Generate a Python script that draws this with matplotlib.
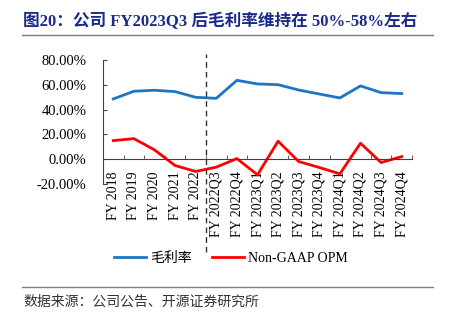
import matplotlib
matplotlib.use("Agg")
import matplotlib.pyplot as plt
from matplotlib.lines import Line2D
from matplotlib.ticker import FuncFormatter, FixedLocator

# 数据
periods = ["FY 2018", "FY 2019", "FY 2020", "FY 2021", "FY 2022",
           "FY 2022Q3", "FY 2022Q4", "FY 2023Q1", "FY 2023Q2", "FY 2023Q3",
           "FY 2023Q4", "FY 2024Q1", "FY 2024Q2", "FY 2024Q3", "FY 2024Q4"]
gross_margin = [48.6, 54.8, 55.6, 54.5, 49.9, 49.1, 63.6, 60.7, 60.1, 55.8,
                52.6, 49.4, 59.1, 53.7, 52.9]
non_gaap_opm = [15.0, 16.6, 7.5, -5.1, -9.9, -6.4, 0.5, -12.6, 14.5, -1.9,
                -6.7, -11.8, 12.9, -2.7, 2.1]

serif = ["Liberation Serif", "Noto Sans CJK SC"]
plt.rcParams["font.family"] = serif

W, H = 458, 324
fig = plt.figure(figsize=(W / 100, H / 100), dpi=100)

# 标题
fig.text(23 / W, 1 - 21 / H, "图20：公司 FY2023Q3 后毛利率维持在 50%-58%左右",
         fontsize=12, fontweight="bold", color="#1a2a8a", va="center", ha="left")
fig.add_artist(Line2D([22 / W, 433 / W], [1 - 35 / H] * 2, color="#7f7f7f", lw=1))

ax = fig.add_axes([103 / W, 1 - 184 / H, 309 / W, 124 / H])
x = list(range(len(periods)))
ax.plot(x, gross_margin, color="#1f74c4", lw=2, label="毛利率")
ax.plot(x, non_gaap_opm, color="#ff0000", lw=2, label="Non-GAAP OPM")

ax.set_xlim(-0.5, len(periods) - 0.5)
ax.set_ylim(-20, 80)
ax.set_yticks([-20, 0, 20, 40, 60, 80])
ax.yaxis.set_major_formatter(FuncFormatter(lambda v, p: f"{v:.2f}%"))

ax.spines["top"].set_visible(False)
ax.spines["right"].set_visible(False)
ax.spines["bottom"].set_position(("data", 0))
for s in ("left", "bottom"):
    ax.spines[s].set_color("#404040")
    ax.spines[s].set_linewidth(0.8)

ax.set_xticks(x)
ax.set_xticklabels(periods, rotation=90)
ax.xaxis.set_minor_locator(FixedLocator([i + 0.5 for i in x]))
ax.tick_params(axis="x", which="major", length=0, pad=9, labelsize=10)
ax.tick_params(axis="x", which="minor", direction="in", length=3, color="#404040")
ax.tick_params(axis="y", direction="in", length=3, labelsize=10.5, pad=12, color="#404040")

# 分隔虚线
ax.axvline(4.5, ymin=-0.55, ymax=1.05, color="#303030", lw=1, ls=(0, (4, 3)), clip_on=False)

fig.legend(loc="center", bbox_to_anchor=(231 / W, 1 - 258 / H), ncol=2, frameon=False,
           prop={"family": serif, "size": 10}, handlelength=2.3, columnspacing=1.4,
           handletextpad=0.3)

# 来源
fig.add_artist(Line2D([22 / W, 433 / W], [1 - 287 / H] * 2, color="#7f7f7f", lw=1))
fig.text(23 / W, 1 - 302 / H, "数据来源：公司公告、开源证券研究所", fontsize=10,
         color="#333333", va="center", ha="left")

fig.savefig("out.png", dpi=100)
